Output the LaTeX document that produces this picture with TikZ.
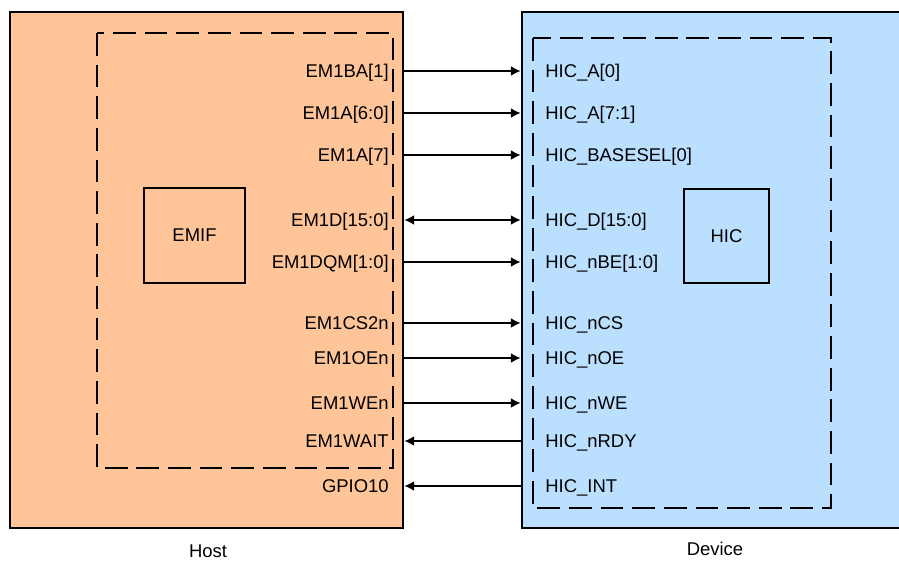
\documentclass[tikz,border=0pt]{standalone}
\usepackage{fontspec}
\setmainfont{Liberation Sans}
\usetikzlibrary{arrows.meta, positioning}

\definecolor{hostfill}{RGB}{255,197,153}
\definecolor{devfill}{RGB}{187,224,255}

\begin{document}
\begin{tikzpicture}[
    x=0.02cm, y=-0.02cm,
    font=\fontsize{10.5pt}{12pt}\selectfont,
    block/.style={draw, line width=1.6pt, inner sep=0pt},
    core/.style={draw, line width=1.6pt, inner sep=0pt, align=center},
    region/.style={draw, line width=1.6pt, dash pattern=on 13pt off 5pt},
    lsig/.style={anchor=east, inner sep=0pt, text height=7.6pt, text depth=0pt},
    rsig/.style={anchor=west, inner sep=0pt, text height=7.6pt, text depth=0pt},
    arrow/.style={-{Latex[length=5.5pt,width=5.5pt]}, line width=0.8pt},
    dualarrow/.style={{Latex[length=5.5pt,width=5.5pt]}-{Latex[length=5.5pt,width=5.5pt]}, line width=0.8pt}
]
    \useasboundingbox (0,0) rectangle (899,561);
    \clip (0,0) rectangle (899,561);

    % Blocks
    \node[block, fill=hostfill, minimum width=7.86cm, minimum height=10.32cm] (host) at (206.5,270) {};
    \node[block, fill=devfill, minimum width=7.76cm, minimum height=10.32cm] (dev) at (716,270) {};

    % Dashed regions
    \draw[region] (97,33) rectangle (393,468);
    \draw[region] (533,38) rectangle (831,508);

    % Cores
    \node[core, minimum width=2.02cm, minimum height=1.9cm] (emif) at (194.5,235.5) {EMIF};
    \node[core, minimum width=1.7cm, minimum height=1.88cm] (hic) at (726.5,236) {HIC};

    % Host signals
    \node[lsig] (ba) at (389,71) {EM1BA[1]};
    \node[lsig] (alo) at (389,113) {EM1A[6:0]};
    \node[lsig] (ahi) at (389,155) {EM1A[7]};
    \node[lsig] (data) at (389,220) {EM1D[15:0]};
    \node[lsig] (dqm) at (389,262) {EM1DQM[1:0]};
    \node[lsig] (cs) at (389,323) {EM1CS2n};
    \node[lsig] (oe) at (389,358) {EM1OEn};
    \node[lsig] (we) at (389,403) {EM1WEn};
    \node[lsig] (wait) at (389,441) {EM1WAIT};
    \node[lsig] (gpio) at (389,486) {GPIO10};

    % Device signals
    \node[rsig] (hica) at (545,71) {HIC\_A[0]};
    \node[rsig] (hicahi) at (545,113) {HIC\_A[7:1]};
    \node[rsig] (hicbase) at (545,155) {HIC\_BASESEL[0]};
    \node[rsig] (hicd) at (545,220) {HIC\_D[15:0]};
    \node[rsig] (hicbe) at (545,262) {HIC\_nBE[1:0]};
    \node[rsig] (hiccs) at (545,323) {HIC\_nCS};
    \node[rsig] (hicoe) at (545,358) {HIC\_nOE};
    \node[rsig] (hicwe) at (545,403) {HIC\_nWE};
    \node[rsig] (hicrdy) at (545,441) {HIC\_nRDY};
    \node[rsig] (hicint) at (545,486) {HIC\_INT};

    % Arrows
    \draw[arrow] (host.east |- ba.east) -- (dev.west |- hica.west);
    \draw[arrow] (host.east |- alo.east) -- (dev.west |- hicahi.west);
    \draw[arrow] (host.east |- ahi.east) -- (dev.west |- hicbase.west);
    \draw[dualarrow] (host.east |- data.east) -- (dev.west |- hicd.west);
    \draw[arrow] (host.east |- dqm.east) -- (dev.west |- hicbe.west);
    \draw[arrow] (host.east |- cs.east) -- (dev.west |- hiccs.west);
    \draw[arrow] (host.east |- oe.east) -- (dev.west |- hicoe.west);
    \draw[arrow] (host.east |- we.east) -- (dev.west |- hicwe.west);
    \draw[arrow] (dev.west |- hicrdy.west) -- (host.east |- wait.east);
    \draw[arrow] (dev.west |- hicint.west) -- (host.east |- gpio.east);

    % Captions
    \node (hostcap) at (208,551) {Host};
    \node (devcap) at (715,549) {Device};
\end{tikzpicture}
\end{document}
